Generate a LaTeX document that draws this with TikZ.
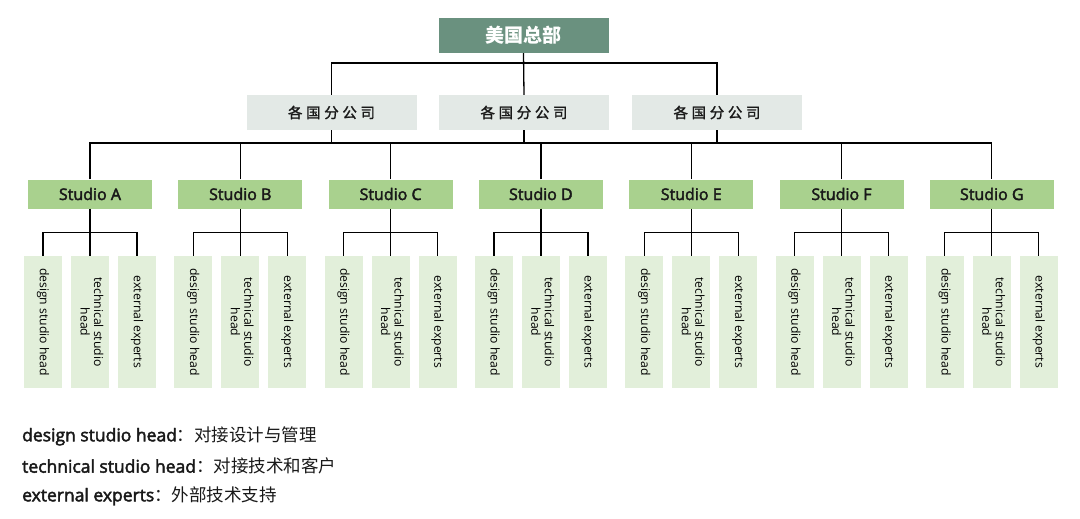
\documentclass[tikz,border=0pt]{standalone}
\usepackage{fontspec}
\setmainfont{Noto Sans CJK SC}
\newfontfamily\cjkspaced[LetterSpace=25,FakeBold=1.5]{Noto Sans CJK SC}
\newfontfamily\latin{Open Sans}
\newfontfamily\latinsemi[FakeBold=2.5]{Open Sans}
\usepackage{xcolor}
\usetikzlibrary{positioning,calc}

\definecolor{hqgreen}{HTML}{6A917F}
\definecolor{branchgrey}{HTML}{E3E9E6}
\definecolor{studiogreen}{HTML}{A9D18E}
\definecolor{rolegreen}{HTML}{E2EFDA}

\tikzset{
	hqbox/.style={fill=hqgreen, text=white, inner sep=0pt,
		minimum width=170pt, minimum height=35pt,
		font=\fontsize{19}{21}\selectfont\bfseries},
	branchbox/.style={fill=branchgrey, text=black!90, inner sep=0pt,
		minimum width=170pt, minimum height=35pt,
		font=\cjkspaced\fontsize{14.5}{16}\selectfont},
	studiobox/.style={fill=studiogreen, text=black!90, inner sep=0pt,
		minimum width=124pt, minimum height=29pt,
		font=\latinsemi\fontsize{16}{18}\selectfont},
	rolebox/.style={fill=rolegreen, text=black, inner sep=0pt,
		minimum width=38pt, minimum height=132pt,
		font=\latin\fontsize{12.2}{13.5}\selectfont},
	legend/.style={anchor=west, inner sep=0pt, text=black!90,
		font=\fontsize{17.5}{19}\selectfont},
	link/.style={line width=1.3pt},
}

\begin{document}
\begin{tikzpicture}[x=1pt,y=-1pt]
	\useasboundingbox (0,0) rectangle (1080,519);
	
	% top
	\node[hqbox] (hq) at (523.5,35.5) {美国总部};
	\node[branchbox] (br1) at (331.5,112.5) {各国分公司};
	\node[branchbox] (br2) at (524,112.5) {各国分公司};
	\node[branchbox] (br3) at (717,112.5) {各国分公司};
	
	\coordinate (topbus) at (523.5,63);
	\coordinate (midbus) at (540,143);
	
	\draw[link] (hq.south) -- (br2.north);
	\draw[link] (br1.north) |- (topbus) -| (br3.north);
	
	% studios and their roles
	\foreach \s [count=\i from 0] in {A,B,C,D,E,F,G} {
		\node[studiobox] (st\s) at ({90+150.3*\i},194) {Studio \s};
		\node[rolebox] (st\s-d) at ({90+150.3*\i-47},322) {\rotatebox{-90}{design studio head}};
		\node[rolebox] (st\s-t) at ({90+150.3*\i},322)
			{\rotatebox{-90}{\begin{tabular}{@{}c@{}}technical studio\\head\end{tabular}}};
		\node[rolebox] (st\s-e) at ({90+150.3*\i+47},322) {\rotatebox{-90}{external experts}};
		\draw[link] (st\s.south) -- (st\s-t.north);
		\draw[link] (st\s-d.north) |- ($(st\s.south)!.5!(st\s-t.north)$) -| (st\s-e.north);
	}
	
	\draw[link] (stA.north) |- (midbus) -| (stG.north);
	\foreach \s in {B,C,D,E,F}
		\draw[link] (st\s.north) -- (st\s.north |- midbus);
	\foreach \b in {1,2,3}
		\draw[link] (br\b.south) -- (br\b.south |- midbus);
	
	% legend
	\node[legend] (lg1) at (22,436) {{\latinsemi design studio head}：对接设计与管理};
	\node[legend] (lg2) at (22,466) {{\latinsemi technical studio head}：对接技术和客户};
	\node[legend] (lg3) at (22,496) {{\latinsemi external experts}：外部技术支持};
\end{tikzpicture}
\end{document}
